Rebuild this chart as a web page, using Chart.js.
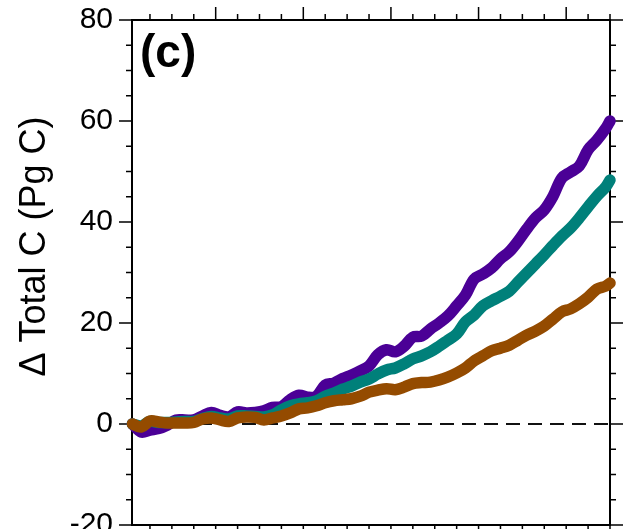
<!DOCTYPE html>
<html>
<head>
<meta charset="utf-8">
<script src="https://cdn.jsdelivr.net/npm/chart.js@4.4.1/dist/chart.umd.min.js"></script>
<style>
  html, body { margin: 0; padding: 0; background: #fff; overflow: hidden; }
  #wrap { width: 623px; height: 529px; overflow: hidden; }
</style>
</head>
<body>
<div id="wrap"><canvas id="chart" width="623" height="529"></canvas></div>
<script>
// Years of the simulation (every other year, plus the final year)
const years = [1991, 1993, 1995, 1997, 1999, 2001, 2003, 2005, 2007, 2009,
  2011, 2013, 2015, 2017, 2019, 2021, 2023, 2025, 2027, 2029,
  2031, 2033, 2035, 2037, 2039, 2041, 2043, 2045, 2047, 2049,
  2051, 2053, 2055, 2057, 2059, 2061, 2063, 2065, 2067, 2069,
  2071, 2073, 2075, 2077, 2079, 2081, 2083, 2085, 2087, 2089,
  2091, 2093, 2095, 2097, 2099, 2100];

// Change in total carbon (Pg C) for the three runs
const purpleRun = [0.0, -1.6, -1.2, -0.9, -0.2, 0.8, 0.8, 0.8, 1.6, 2.3,
  1.7, 1.4, 2.4, 2.2, 2.3, 2.6, 3.3, 3.4, 4.8, 5.7,
  5.3, 5.5, 7.7, 8.1, 9.0, 9.7, 10.5, 11.5, 13.7, 14.7,
  14.3, 15.4, 17.2, 17.4, 18.8, 20.0, 21.4, 23.4, 25.5, 28.7,
  29.7, 30.9, 32.7, 34.1, 36.2, 38.6, 40.8, 42.4, 45.1, 48.7,
  49.9, 51.1, 54.3, 56.2, 58.5, 60.0];

const tealRun = [0.0, -0.4, 0.5, 0.3, 0.3, 0.4, 0.5, 0.5, 1.1, 1.5,
  1.2, 1.0, 1.6, 1.6, 1.5, 1.4, 1.8, 2.8, 3.6, 4.0,
  4.2, 4.6, 5.5, 6.1, 6.9, 7.5, 8.3, 8.9, 9.9, 10.7,
  11.1, 11.9, 12.9, 13.5, 14.3, 15.4, 16.6, 17.8, 20.2, 21.6,
  23.4, 24.4, 25.3, 26.3, 28.1, 29.9, 31.7, 33.5, 35.4, 37.2,
  38.8, 40.8, 43.0, 45.1, 46.9, 48.3];

const brownRun = [0.0, -0.6, 0.6, 0.4, 0.2, 0.2, 0.2, 0.3, 1.0, 1.2,
  0.8, 0.5, 1.2, 1.4, 1.3, 0.8, 1.2, 1.6, 2.2, 3.0,
  3.2, 3.6, 4.2, 4.6, 4.8, 5.0, 5.5, 6.3, 6.7, 7.0,
  6.8, 7.3, 8.0, 8.2, 8.3, 8.7, 9.3, 10.1, 11.1, 12.5,
  13.5, 14.5, 15.0, 15.6, 16.6, 17.6, 18.4, 19.4, 20.8, 22.2,
  22.8, 23.8, 25.1, 26.7, 27.3, 27.9];

// Axis ticks
const yMajorTicks = [-20, 0, 20, 40, 60, 80];
const yMinorStep = 5;
const xMajorTicks = [2010, 2030, 2050, 2070, 2090];
const xMinorStep = 5;

const yTitle = 'Δ Total C (Pg C)';
const panelLabel = '(c)';

const FONT = '"Liberation Sans", Arial, Helvetica, sans-serif';

function toPoints(vals) {
  return years.map((yr, i) => ({ x: yr, y: vals[i] }));
}

function lineSet(vals, color) {
  return {
    data: toPoints(vals),
    borderColor: color,
    borderWidth: 11.5,
    borderCapStyle: 'round',
    borderJoinStyle: 'round',
    pointRadius: 0,
    tension: 0.35,
    fill: false,
    clip: false
  };
}

// Frame, zero line, ticks (drawn below the curves) and the text labels
const framePlugin = {
  id: 'frame',
  beforeDatasetsDraw(chart) {
    const { ctx, chartArea: a, scales: { x, y } } = chart;
    ctx.save();

    // dashed zero line
    const y0 = y.getPixelForValue(0);
    ctx.setLineDash([14, 8]);
    ctx.lineWidth = 2;
    ctx.strokeStyle = '#111';
    ctx.beginPath();
    ctx.moveTo(a.left, y0);
    ctx.lineTo(a.right, y0);
    ctx.stroke();
    ctx.setLineDash([]);

    // ticks on all four sides, pointing outward
    ctx.strokeStyle = '#000';
    ctx.lineWidth = 1.5;
    const MAJ = 13, MIN = 6;
    ctx.beginPath();
    for (let v = y.min; v <= y.max + 1e-9; v += yMinorStep) {
      const len = yMajorTicks.includes(v) ? MAJ : MIN;
      const py = y.getPixelForValue(v);
      ctx.moveTo(a.left, py); ctx.lineTo(a.left - len, py);
      ctx.moveTo(a.right, py); ctx.lineTo(a.right + len, py);
    }
    const xStart = Math.ceil(x.min / xMinorStep) * xMinorStep;
    for (let v = xStart; v <= x.max + 1e-9; v += xMinorStep) {
      const len = xMajorTicks.includes(v) ? MAJ : MIN;
      const px = x.getPixelForValue(v);
      ctx.moveTo(px, a.top); ctx.lineTo(px, a.top - len);
      ctx.moveTo(px, a.bottom); ctx.lineTo(px, a.bottom + len);
    }
    ctx.stroke();

    // plot frame
    ctx.lineWidth = 2;
    ctx.strokeRect(a.left, a.top, a.right - a.left, a.bottom - a.top);
    ctx.restore();
  },
  afterDraw(chart) {
    const { ctx } = chart;
    ctx.save();
    ctx.fillStyle = '#000';

    // rotated y-axis title
    ctx.font = '36px ' + FONT;
    ctx.textAlign = 'center';
    ctx.textBaseline = 'alphabetic';
    ctx.translate(44.5, 246.5);
    ctx.rotate(-Math.PI / 2);
    ctx.fillText(yTitle, 0, 0);
    ctx.setTransform(1, 0, 0, 1, 0, 0);

    // panel label
    ctx.font = 'bold 46px ' + FONT;
    ctx.textAlign = 'left';
    ctx.fillText(panelLabel, 140, 67);
    ctx.restore();
  }
};

new Chart(document.getElementById('chart'), {
  type: 'line',
  data: {
    datasets: [
      lineSet(brownRun, '#944b00'),
      lineSet(tealRun, '#00807a'),
      lineSet(purpleRun, '#4b0096')
    ]
  },
  options: {
    responsive: false,
    animation: false,
    devicePixelRatio: 1,
    layout: { padding: { top: 20, right: 13, bottom: 4, left: 0 } },
    plugins: { legend: { display: false }, tooltip: { enabled: false } },
    scales: {
      x: {
        type: 'linear',
        min: 1990.9,
        max: 2100,
        display: false
      },
      y: {
        type: 'linear',
        min: -20,
        max: 80,
        grid: { display: false, drawTicks: false },
        border: { display: false },
        ticks: {
          stepSize: 20,
          padding: 19,
          color: '#000',
          font: { family: FONT, size: 30 }
        },
        afterFit(scale) {
          scale.width = 132;
          // let the end labels overflow instead of shrinking the plot
          scale.paddingTop = 0;
          scale.paddingBottom = 0;
        }
      }
    }
  },
  plugins: [framePlugin]
});
</script>
</body>
</html>
